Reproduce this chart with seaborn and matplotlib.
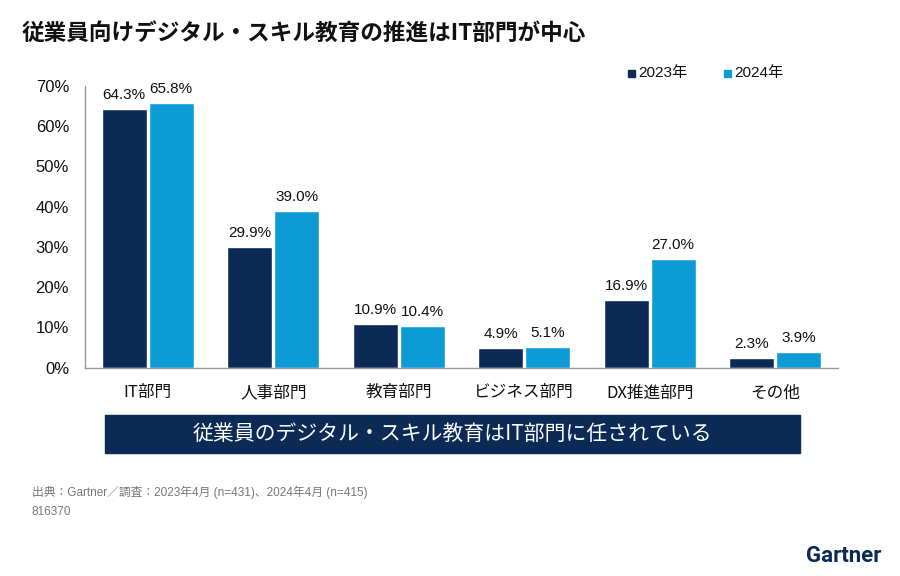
import matplotlib
matplotlib.use("Agg")
import matplotlib.pyplot as plt
import seaborn as sns
import pandas as pd
from matplotlib.patches import Rectangle

categories = ["IT部門", "人事部門", "教育部門", "ビジネス部門", "DX推進部門", "その他"]
series_names = ["2023年", "2024年"]
values_2023 = [64.3, 29.9, 10.9, 4.9, 16.9, 2.3]
values_2024 = [65.8, 39.0, 10.4, 5.1, 27.0, 3.9]
y_ticks = [0, 10, 20, 30, 40, 50, 60, 70]

title = "従業員向けデジタル・スキル教育の推進はIT部門が中心"
banner = "従業員のデジタル・スキル教育はIT部門に任されている"
source = "出典：Gartner／調査：2023年4月 (n=431)、2024年4月 (n=415)"
code = "816370"

df = pd.DataFrame({
    "category": categories * 2,
    "year": [series_names[0]] * len(categories) + [series_names[1]] * len(categories),
    "value": values_2023 + values_2024,
})

sns.set_theme(style="white")
plt.rcParams['font.family'] = ['Liberation Sans', 'Noto Sans CJK JP', 'DejaVu Sans']
cjk = ['Noto Sans CJK JP', 'DejaVu Sans']

navy = "#0b2a55"
blue = "#0d9bd6"

fig = plt.figure(figsize=(9, 5.76), dpi=100)
ax = fig.add_axes([85 / 900, 1 - 367.7 / 576, 753 / 900, (367.7 - 86) / 576])

sns.barplot(data=df, x="category", y="value", hue="year", order=categories,
            hue_order=series_names, palette=[navy, blue], width=0.748, gap=0.048,
            ax=ax, legend=False, saturation=1)

for cont in ax.containers:
    ax.bar_label(cont, fmt="%.1f%%", padding=5, fontsize=11, color="#111111")

ax.set_ylim(0, 70)
ax.set_xlim(-0.5, len(categories) - 0.5)
ax.set_yticks(y_ticks)
ax.set_yticklabels([f"{t}%" for t in y_ticks], fontsize=12, color="#111111")
ax.set_xticks(range(len(categories)))
ax.set_xticklabels(categories, fontsize=12, color="#111111", family=cjk)
ax.set_xlabel("")
ax.set_ylabel("")
ax.tick_params(axis="x", length=0, pad=12)
ax.tick_params(axis="y", length=0, pad=11.5)
for s in ["top", "right"]:
    ax.spines[s].set_visible(False)
for s in ["left", "bottom"]:
    ax.spines[s].set_color("#999999")
    ax.spines[s].set_linewidth(1.0)
ax.grid(False)

# Title
fig.text(22 / 900, 1 - 33 / 576, title, fontsize=16.3, fontweight="bold",
         color="#111111", ha="left", va="center", family=cjk)

# Legend
for i, (name, col) in enumerate(zip(series_names, [navy, blue])):
    lx = 628 + i * 96
    fig.patches.append(Rectangle((lx / 900, 1 - 77 / 576), 7 / 900, 7 / 576,
                                 transform=fig.transFigure, color=col))
    fig.text((lx + 10) / 900, 1 - 73.5 / 576, name, fontsize=11,
             color="#111111", ha="left", va="center")

# Banner
fig.patches.append(Rectangle((105 / 900, 1 - 453 / 576), 695 / 900, 38 / 576,
                             transform=fig.transFigure, color=navy))
fig.text(452 / 900, 1 - 434 / 576, banner, fontsize=15, color="white",
         ha="center", va="center", family=cjk)

# Source
fig.text(32 / 900, 1 - 492 / 576, source, fontsize=8.5, color="#777777",
         ha="left", va="center")
fig.text(32 / 900, 1 - 512 / 576, code, fontsize=8.5, color="#777777",
         ha="left", va="center")

# Logo text
fig.text(881 / 900, 1 - 556 / 576, "Gartner", fontsize=16, fontweight="bold",
         color=navy, ha="right", va="center", family=["Roboto", "DejaVu Sans"])

fig.savefig("out.png", dpi=100)
